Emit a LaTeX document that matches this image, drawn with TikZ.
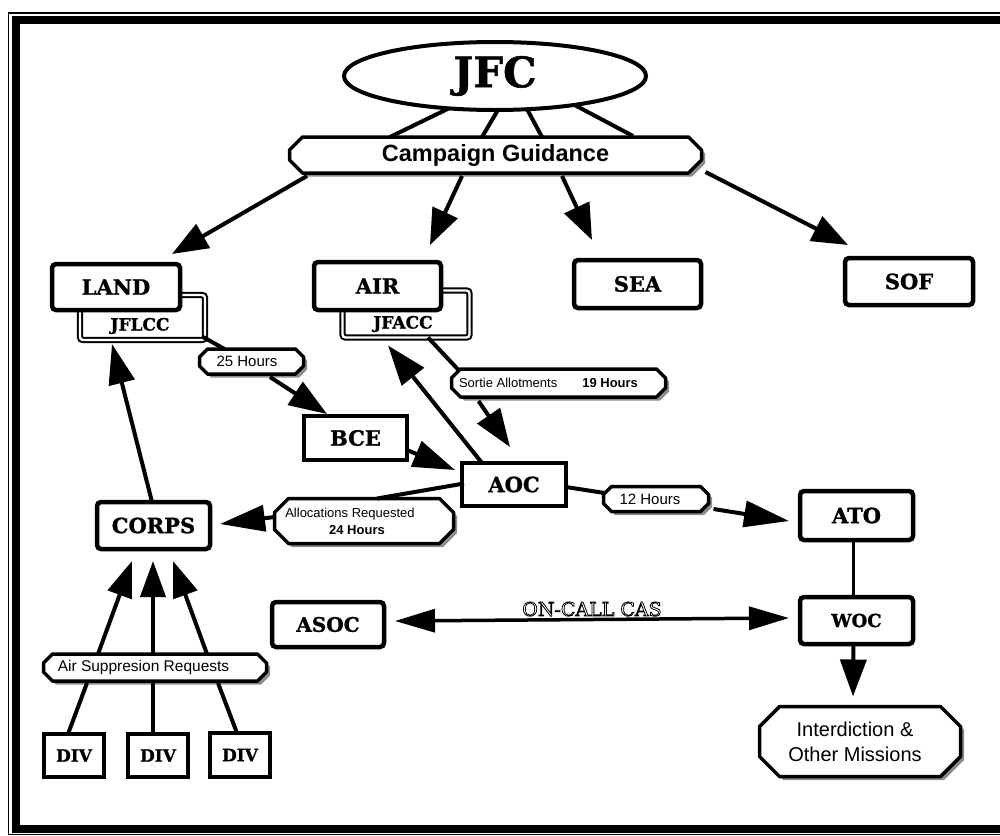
\documentclass[tikz,border=0pt]{standalone}
\usepackage{fontspec}
\setmainfont{DejaVu Serif}[BoldFeatures={FakeBold=1.2}]
\newfontfamily\sansf{Liberation Sans}
\usetikzlibrary{arrows.meta,calc,shapes.geometric,backgrounds}
\newcommand\outl[1]{\special{pdf:literal direct 1 Tr 0.8 w}#1\special{pdf:literal direct 0 Tr}}
\newcommand\chbox[2]{%
  \begin{scope}[on background layer]
  \fill[black!45] ($(#1.north west)+(#2+3.5,3.5)$) -- ($(#1.north east)+(-#2+3.5,3.5)$) -- ($(#1.north east)+(3.5,#2+3.5)$) -- ($(#1.south east)+(3.5,-#2+3.5)$) -- ($(#1.south east)+(-#2+3.5,3.5)$) -- ($(#1.south west)+(#2+3.5,3.5)$) -- ($(#1.south west)+(3.5,-#2+3.5)$) -- ($(#1.north west)+(3.5,#2+3.5)$) -- cycle;
  \draw[line width=3.5pt, fill=white, line join=round] ($(#1.north west)+(#2,0)$) -- ($(#1.north east)+(-#2,0)$) -- ($(#1.north east)+(0,#2)$) -- ($(#1.south east)+(0,-#2)$) -- ($(#1.south east)+(-#2,0)$) -- ($(#1.south west)+(#2,0)$) -- ($(#1.south west)+(0,-#2)$) -- ($(#1.north west)+(0,#2)$) -- cycle;
  \end{scope}}
\tikzset{
  bx/.style={draw, line width=4.5pt, rounded corners=4pt, fill=white, inner sep=0pt, outer sep=0pt, font=\bfseries\fontsize{21}{24}\selectfont},
  sq/.style={bx, rounded corners=0pt},
  dbl/.style={draw, double, line width=2pt, double distance=2.4pt, fill=white, inner sep=0pt, outer sep=0pt, rounded corners=3pt},
  subt/.style={inner sep=0pt, font=\bfseries\fontsize{17}{19}\selectfont},
  cb/.style={inner sep=0pt, outer sep=0pt, font=\sansf\fontsize{15}{17}\selectfont},
  arr/.style 2 args={line width=4pt, -{Triangle[length=#1pt,width=#2pt]}},
  a/.style={arr={36}{27}},
  ln/.style={line width=4pt},
}
\begin{document}
\begin{tikzpicture}[x=1pt,y=-1pt]
\useasboundingbox (0,0) rectangle (1000,835);
\begin{scope}[on background layer]
  \draw[line width=8pt] (1000,20) -- (16,20) -- (16,828.5) -- (1000,828.5);
  \draw[line width=1.2pt] (1000,13) -- (8.5,13) -- (8.5,834.4) -- (1000,834.4);
\end{scope}

% nodes
\node[draw, ellipse, line width=4pt, fill=white, minimum width=302, minimum height=68, inner sep=0pt, outer sep=0pt, font=\bfseries\fontsize{42}{44}\selectfont] (jfc) at (495,76) {JFC};
\node[cb, minimum width=412, minimum height=36, font=\sansf\bfseries\fontsize{23.5}{25}\selectfont] (cg) at (495.5,155) {Campaign Guidance};
\chbox{cg}{13}

\node[dbl, minimum width=125, minimum height=45] (jflcc) at (142.5,317.5) {};
\node[subt] (jflcct) at (140,326) {JFLCC};
\node[bx, minimum width=128, minimum height=46] (land) at (116,287) {LAND};

\node[dbl, minimum width=127, minimum height=47] (jfacc) at (406,314) {};
\node[subt] (jfacct) at (403,324) {JFACC};
\node[bx, minimum width=127, minimum height=48] (air) at (377.5,286) {AIR};

\node[bx, minimum width=127, minimum height=48] (sea) at (637.5,284) {SEA};
\node[bx, minimum width=128, minimum height=47] (sof) at (909,281.5) {SOF};

\node[cb, minimum width=104, minimum height=25] (h25) at (251.5,361.5) {25 Hours\hspace*{9pt}};
\chbox{h25}{8}
\node[sq, minimum width=103, minimum height=44] (bce) at (355.5,438) {BCE};

\node[cb, minimum width=214, minimum height=28, font=\sansf\fontsize{13}{15}\selectfont] (sortie) at (558.5,383) {Sortie Allotments\hspace{25pt}\textbf{19 Hours}\hspace*{20pt}};
\chbox{sortie}{9}

\node[sq, minimum width=104, minimum height=43] (aoc) at (514,484.5) {AOC};

\node[cb, minimum width=179, minimum height=45, align=center, font=\sansf\fontsize{13}{17}\selectfont] (alloc) at (364,521) {Allocations Requested\hspace*{28pt}\\\textbf{24 Hours}\hspace*{14pt}};
\chbox{alloc}{14}

\node[cb, minimum width=105, minimum height=25] (h12) at (656,499) {12 Hours\hspace*{12pt}};
\chbox{h12}{8}

\node[bx, minimum width=113, minimum height=49] (ato) at (856.5,515.5) {ATO};
\node[bx, minimum width=113, minimum height=47] (corps) at (153.5,525.5) {CORPS};
\node[bx, minimum width=112, minimum height=45, font=\bfseries\fontsize{20}{22}\selectfont] (asoc) at (328,624.5) {ASOC};
\node[bx, minimum width=113, minimum height=47, font=\bfseries\fontsize{18}{20}\selectfont] (woc) at (856.5,620.5) {WOC};

\node[cb, minimum width=201, minimum height=70, align=center, font=\sansf\fontsize{20}{25}\selectfont] (interd) at (860,741.5) {Interdiction \&\hspace*{10pt}\\Other Missions\hspace*{10pt}};
\chbox{interd}{20}

\node[cb, minimum width=223, minimum height=27, font=\sansf\fontsize{15.5}{17}\selectfont] (airsup) at (155,667.5) {Air Suppresion Requests\hspace*{23pt}};
\chbox{airsup}{9}

\node[sq, line width=4pt, minimum width=60, minimum height=43, font=\bfseries\fontsize{17}{19}\selectfont] (div1) at (74,755.5) {DIV};
\node[sq, line width=4pt, minimum width=60, minimum height=43, font=\bfseries\fontsize{17}{19}\selectfont] (div2) at (158,755.5) {DIV};
\node[sq, line width=4pt, minimum width=60, minimum height=44, font=\bfseries\fontsize{17}{19}\selectfont] (div3) at (240,755) {DIV};

% JFC to Campaign Guidance
\draw[ln] (jfc.-145) -- ($(cg.north)+(-105.5,0)$);
\draw[ln] (jfc.-85) -- ($(cg.north)+(-13.5,0)$);
\draw[ln] (jfc.-46) -- ($(cg.north)+(46.5,0)$);
\draw[ln] (jfc.-20) -- ($(cg.north)+(137.5,-1)$);

% Campaign Guidance to components
\draw[a] ($(cg.south)+(-188.5,3)$) -- ($(land.north)+(56,-10)$);
\draw[a] ($(cg.south)+(-33.5,3)$) -- ($(air.north)+(52.5,-17)$);
\draw[a] ($(cg.south)+(66.5,3)$) -- ($(sea.north)+(-45.5,-20)$);
\draw[a] ($(cg.east)+(4,17)$) -- ($(sof.north)+(-61,-13)$);

% LAND side
\draw[ln] ($(jflcc.south east)+(-2,-3)$) -- ($(h25.north west)+(25,0)$);
\draw[arr={38}{27}] ($(h25.south)+(18.5,3)$) -- ($(bce.north)+(-28.5,-2)$);
\draw[arr={42}{27}] ($(bce.east)+(0,12)$) -- ($(aoc.west)+(-7,-14.5)$);

% AIR side
\draw[arr={40}{28}] ($(aoc.north west)+(20,0)$) -- ($(jfacc.south)+(-18,8)$);
\draw[ln] ($(jfacc.south)+(22,0)$) -- ($(sortie.north west)+(7,1)$);
\draw[arr={38}{27}] ($(sortie.south west)+(27,4)$) -- ($(aoc.north)+(-4,-16)$);

% AOC outputs
\draw[ln] ($(aoc.west)+(2,-1)$) -- ($(alloc.north)+(13,0)$);
\draw[arr={45}{26}] ($(alloc.west)+(0,-4)$) -- ($(corps.east)+(10,-1.5)$);
\draw[ln] ($(aoc.east)+(0,2.5)$) -- ($(h12.west)+(1,-6)$);
\draw[arr={45}{26}] ($(h12.east)+(5,10)$) -- ($(ato.west)+(-11,5.5)$);

% CORPS
\draw[arr={40}{26}] ($(corps.north)+(-1.5,0)$) -- ($(jflcc.south)+(-30.5,4)$);
\draw[arr={36}{25}] ($(airsup.north)+(-57,0)$) -- ($(corps.south)+(-21.5,12)$);
\draw[arr={36}{25}] ($(airsup.north)+(-2,0)$) -- ($(corps.south)+(-0.5,12)$);
\draw[arr={36}{25}] ($(airsup.north)+(52,0)$) -- ($(corps.south)+(19.5,12)$);
\draw[ln] ($(airsup.south)+(-68,2)$) -- ($(div1.north)+(-6,0)$);
\draw[ln] ($(airsup.south)+(-2,2)$) -- ($(div2.north)+(-5,0)$);
\draw[ln] ($(airsup.south)+(63,2)$) -- ($(div3.north)+(-3,0)$);

% ON-CALL CAS
\draw[line width=3.5pt, {Triangle[length=40pt,width=23pt]}-{Triangle[length=40pt,width=23pt]}] ($(asoc.east)+(11,-3.5)$) -- node[above, inner sep=1.5pt, font=\fontsize{19}{21}\selectfont] (oncall) {\outl{ON-CALL CAS}} ($(woc.west)+(-11,-2.5)$);

% ATO - WOC - missions
\draw[line width=3.5pt] ($(ato.south)+(-3,0)$) -- ($(woc.north)+(-3,0)$);
\draw[arr={37}{26}] ($(woc.south)+(-3,0)$) -- ($(interd.north)+(-7,-10)$);
\end{tikzpicture}
\end{document}
